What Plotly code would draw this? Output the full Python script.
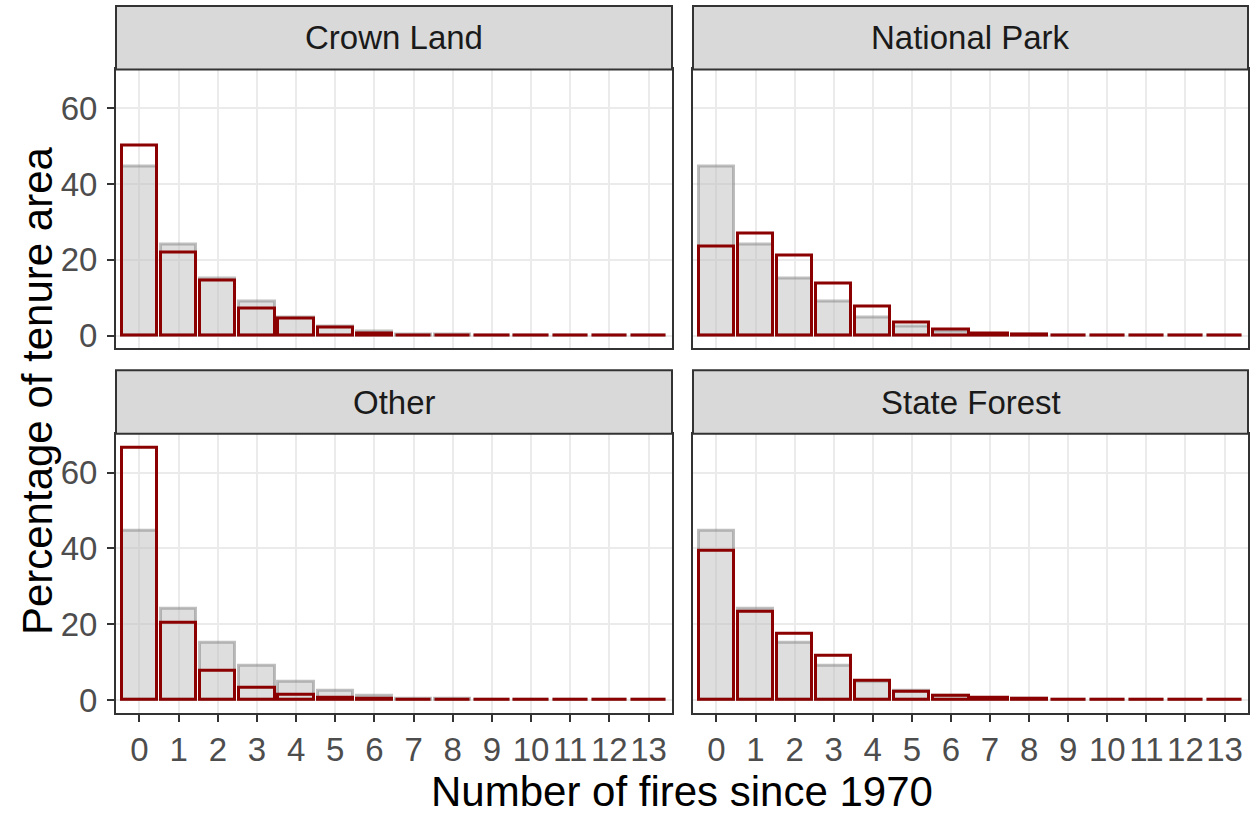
import plotly.graph_objects as go

W, H = 1259, 816

# ---- data ----
fires = list(range(14))
tick_labels = [str(i) for i in fires]
panel_names = ["Crown Land", "National Park", "Other", "State Forest"]

# distribution over all tenures (grey background bars, same in every panel)
all_tenure = [44.6, 24.0, 15.1, 9.0, 4.9, 2.4, 1.1, 0.4, 0.2, 0.1, 0.05, 0.03, 0.02, 0.01]

crown_land = [50.3, 21.9, 14.5, 7.3, 4.5, 2.2, 0.5, 0.15, 0.05, 0.05, 0.05, 0.05, 0.05, 0.05]
national_park = [23.6, 27.1, 21.2, 13.7, 7.7, 3.6, 1.7, 0.6, 0.3, 0.1, 0.05, 0.05, 0.05, 0.05]
other = [66.6, 20.5, 7.8, 3.1, 1.4, 0.7, 0.3, 0.1, 0.05, 0.05, 0.05, 0.05, 0.05, 0.05]
state_forest = [39.4, 23.3, 17.4, 11.6, 5.0, 2.2, 1.1, 0.5, 0.2, 0.1, 0.05, 0.05, 0.05, 0.05]

y_ticks = [0, 20, 40, 60]

panel_values = [crown_land, national_park, other, state_forest]

# ---- layout geometry (pixels) ----
cols = [(116, 672), (693, 1248)]
rows = [(70, 351), (437, 718)]
strip_h = 64

def px_x(p):
    return p / W

def px_y(p):
    return 1 - p / H

fig = go.Figure()

grid_col = "#EBEBEB"
border_col = "#333333"
font_family = "Liberation Sans, Arial, sans-serif"
tick_size = 33

for i, (name, vals) in enumerate(zip(panel_names, panel_values)):
    r, c = divmod(i, 2)
    sfx = "" if i == 0 else str(i + 1)
    xa, ya = "x" + sfx, "y" + sfx
    fig.add_trace(go.Bar(
        x=fires, y=all_tenure, width=0.9, xaxis=xa, yaxis=ya,
        marker=dict(color="rgba(190,190,190,0.5)",
                    line=dict(color="rgba(127,127,127,0.5)", width=3)),
        showlegend=False, hoverinfo="x+y"))
    fig.add_trace(go.Bar(
        x=fires, y=vals, width=0.9, xaxis=xa, yaxis=ya,
        marker=dict(color="rgba(0,0,0,0)",
                    line=dict(color="#8B0000", width=3)),
        showlegend=False, hoverinfo="x+y", name=name))

    x0, x1 = cols[c]
    y0, y1 = rows[r]
    bottom = (r == 1)
    left = (c == 0)
    fig.update_layout(**{
        "xaxis" + sfx: dict(
            domain=[px_x(x0), px_x(x1)], anchor=ya, range=[-0.6, 13.6],
            tickvals=fires, ticktext=tick_labels,
            showticklabels=bottom, ticks="outside" if bottom else "",
            ticklen=7, tickwidth=2, tickcolor=border_col,
            tickfont=dict(size=tick_size, color="#4D4D4D", family=font_family),
            showgrid=True, gridcolor=grid_col, gridwidth=2,
            showline=True, mirror=True, linecolor=border_col, linewidth=2,
            zeroline=False, fixedrange=True),
        "yaxis" + sfx: dict(
            domain=[px_y(y1), px_y(y0)], anchor=xa, range=[-3.35, 70.25],
            tickvals=y_ticks, ticktext=[str(v) for v in y_ticks],
            showticklabels=left, ticks="outside" if left else "",
            ticklen=7, tickwidth=2, tickcolor=border_col, ticklabelstandoff=3,
            tickfont=dict(size=tick_size, color="#4D4D4D", family=font_family),
            showgrid=True, gridcolor=grid_col, gridwidth=2,
            showline=True, mirror=True, linecolor=border_col, linewidth=2,
            zeroline=False, fixedrange=True),
    })

    # strip
    fig.add_shape(type="rect", xref="paper", yref="paper",
                  x0=px_x(x0), x1=px_x(x1), y0=px_y(y0), y1=px_y(y0 - strip_h),
                  fillcolor="#D9D9D9", line=dict(color=border_col, width=2),
                  layer="above")
    fig.add_annotation(xref="paper", yref="paper",
                       x=px_x((x0 + x1) / 2), y=px_y(y0 - strip_h / 2),
                       text=name, showarrow=False,
                       font=dict(size=tick_size, color="#1A1A1A", family=font_family),
                       xanchor="center", yanchor="middle")

# axis titles
fig.add_annotation(xref="paper", yref="paper", x=px_x(682), y=px_y(797),
                   text="Number of fires since 1970", showarrow=False,
                   font=dict(size=42, color="black", family=font_family),
                   xanchor="center", yanchor="middle")
fig.add_annotation(xref="paper", yref="paper", x=px_x(37), y=px_y(394),
                   text="Percentage of tenure area", showarrow=False, textangle=-90,
                   font=dict(size=42, color="black", family=font_family),
                   xanchor="center", yanchor="middle")

fig.update_layout(
    width=W, height=H, margin=dict(l=0, r=0, t=0, b=0),
    paper_bgcolor="white", plot_bgcolor="white",
    barmode="overlay", bargap=0, showlegend=False,
    font=dict(family=font_family),
)

fig.write_html("out.html")
